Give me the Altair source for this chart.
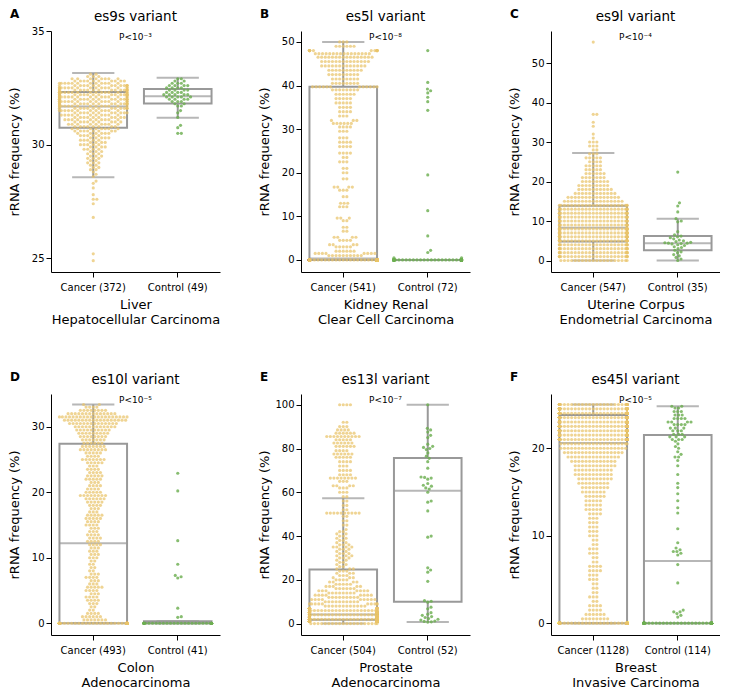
import numpy as np
import pandas as pd
import altair as alt

# ---------------- data ----------------
LETTERS = ["A", "B", "C", "D", "E", "F"]
VARIANTS = ["es9s variant", "es5l variant", "es9l variant",
            "es10l variant", "es13l variant", "es45l variant"]
TISSUES = [["Liver", "Hepatocellular Carcinoma"],
           ["Kidney Renal", "Clear Cell Carcinoma"],
           ["Uterine Corpus", "Endometrial Carcinoma"],
           ["Colon", "Adenocarcinoma"],
           ["Prostate", "Adenocarcinoma"],
           ["Breast", "Invasive Carcinoma"]]
PVALUES = ["P<10\u207b\u00b3", "P<10\u207b\u2078", "P<10\u207b\u2074",
           "P<10\u207b\u2075", "P<10\u207b\u2077", "P<10\u207b\u2075"]
N_CANCER = [372, 541, 547, 493, 504, 1128]
N_CONTROL = [49, 72, 35, 41, 52, 114]
Y_DOMAINS = [[24.4, 35.0], [-2.77, 52.5], [-2.9, 58.1],
             [-1.8, 35.0], [-5.2, 104.9], [-1.35, 26.2]]
Y_TICKS = [[25, 30, 35], [0, 10, 20, 30, 40, 50], [0, 10, 20, 30, 40, 50],
           [0, 10, 20, 30], [0, 20, 40, 60, 80, 100], [0, 10, 20]]

# box statistics: [lower whisker, Q1, median, Q3, upper whisker]
BOX_CANCER = [[28.57, 30.75, 31.68, 32.32, 33.15],
              [0.0, 0.0, 0.3, 39.7, 50.0],
              [0.0, 4.8, 8.3, 13.9, 27.2],
              [0.0, 0.0, 12.2, 27.4, 33.4],
              [0.0, 1.8, 4.2, 24.7, 57.3],
              [0.0, 0.0, 20.6, 23.8, 25.0]]
BOX_CONTROL = [[31.18, 31.81, 32.13, 32.45, 32.94],
               [0.0, 0.0, 0.0, 0.0, 0.0],
               [0.0, 2.6, 4.4, 6.2, 10.6],
               [0.0, 0.0, 0.0, 0.3, 0.3],
               [0.7, 10.0, 60.7, 75.7, 100.0],
               [0.0, 0.0, 7.1, 21.5, 24.8]]

# swarm rows: value levels and number of dots at each level
A_CAN_V = [33.1, 33.0, 32.9, 32.8, 32.7, 32.6, 32.5, 32.4, 32.3, 32.2, 32.1, 32.0, 31.9,
           31.8, 31.7, 31.6, 31.5, 31.4, 31.3, 31.2, 31.1, 31.0, 30.9, 30.8, 30.7, 30.6,
           30.5, 30.4, 30.3, 30.2, 30.1, 30.0, 29.9, 29.8, 29.7, 29.6, 29.5, 29.4, 29.3,
           29.2, 29.1, 29.0, 28.9, 28.8, 28.7, 28.6,
           28.4, 28.3, 28.1, 27.8, 27.6, 27.4, 26.8, 25.2, 24.9]
A_CAN_N = [2, 3, 8, 10, 12, 14, 15, 16, 16, 16, 16, 15, 15, 15, 14, 13, 12, 11, 11, 10,
           10, 9, 9, 8, 8, 8,
           6, 5, 5, 5, 4, 5, 4, 4, 3, 3, 3, 3, 2, 3, 2, 2, 2, 1, 1, 1,
           1, 1, 1, 1, 2, 1, 1, 1, 1]
A_CON_V = [32.9, 32.8, 32.7, 32.6, 32.5, 32.4, 32.3, 32.2, 32.1, 32.0, 31.9, 31.8, 31.7,
           31.5, 31.4, 31.2, 30.85, 30.75, 30.5]
A_CON_N = [2, 2, 3, 4, 4, 4, 4, 5, 5, 4, 3, 2, 2, 1, 1, 1, 1, 1, 2]

B_CAN_V = [0.0, 1.0, 1.5, 2.0, 3.0, 3.5, 4.5, 5.2, 6.6, 7.5, 9.0, 9.6, 12.2, 13.0, 14.5,
           16.0, 16.7, 18.6, 20.0, 21.0, 22.5, 23.5, 24.5, 26.0, 27.0, 28.0, 29.5, 30.5,
           31.3, 32.0, 33.0, 34.0, 35.0, 36.0, 37.0, 38.0, 39.0, 39.7, 40.5, 41.5, 42.5,
           43.5, 44.5, 45.5, 46.5, 47.3, 48.0, 49.0, 50.0]
B_CAN_N = [265, 10, 8, 6, 5, 4, 4, 4, 2, 2, 2, 3, 3, 3, 2,
           3, 4, 2, 2, 2, 3, 2, 4, 4, 4, 3, 3, 4,
           6, 3, 3, 4, 4, 5, 5, 6, 8, 12, 8, 8, 9,
           10, 13, 14, 16, 16, 13, 6, 3]
B_CON_V = [0.0, 0.5, 1.7, 2.2, 5.5, 11.3, 19.5, 34.3, 36.3, 37.3, 38.3, 38.8, 39.2, 40.7, 48.0]
B_CON_N = [57, 2, 1, 1, 1, 1, 1, 1, 1, 1, 1, 1, 1, 1, 1]

C_CAN_V = [0, 1, 2, 3, 4, 5, 6, 7, 8, 9, 10, 11, 12, 13, 14, 15, 16, 17, 18, 19, 20,
           21, 22, 23, 24, 25, 26, 27, 28, 29, 30, 31, 32, 34, 35, 37, 55.3]
C_CAN_N = [20, 26, 26, 26, 26, 33, 34, 34, 34, 28, 27, 26, 25, 24, 22, 17, 15, 12, 10, 9, 8,
           7, 6, 5, 5, 4, 5, 3, 2, 3, 3, 1, 1, 1, 1, 2, 1]
C_CON_V = [22.4, 14.6, 13.8, 12.3, 10.6, 10.0, 9.8, 7.3, 6.5, 6.2, 6.0, 5.8, 5.5, 5.2,
           5.0, 4.8, 4.6, 4.5, 4.4, 4.4, 4.3, 4.2, 4.0, 3.8, 3.5, 3.3, 3.0, 2.6, 2.2,
           2.0, 1.5, 1.2, 0.8, 0.4, 0.0]
C_CON_N = None

D_CAN_V = [0.0, 0.5, 1.0, 1.5, 2.0, 2.5, 3.0, 3.5, 4.0, 4.5, 5.0, 5.5, 6.0, 6.5, 7.0, 7.5,
           8.0, 8.5, 9.0, 9.5, 10.0, 10.5, 11.0, 11.5, 12.0, 12.5, 13.0, 13.5, 14.0, 14.5,
           15.0, 15.5, 16.0, 16.5, 17.0, 17.5, 18.0, 18.5, 19.0, 19.5, 20.0, 20.5, 21.0,
           21.5, 22.0, 22.5, 23.0, 23.5, 24.0, 24.5, 25.0, 25.5, 26.0, 26.5, 27.0, 27.5,
           28.0, 28.5, 29.0, 29.5, 30.0, 30.5, 31.0, 31.5, 32.0, 32.5, 33.0, 33.4]
D_CAN_N = [160, 7, 6, 4, 2, 2, 3, 4, 4, 3, 4, 5, 3, 3, 4, 3,
           2, 2, 2, 2, 3, 3, 3, 3, 4, 4, 4, 4, 3, 3,
           4, 4, 5, 5, 3, 3, 4, 5, 6, 8, 5, 4, 4,
           3, 5, 5, 4, 4, 3, 5, 7, 4, 5, 8, 7, 6,
           7, 8, 9, 10, 12, 14, 18, 20, 14, 8, 4, 2]
D_CON_V = [0.0, 0.9, 1.0, 2.3, 6.9, 7.1, 7.3, 9.0, 12.6, 20.2, 22.9]
D_CON_N = [31, 1, 1, 1, 1, 1, 1, 1, 1, 1, 1]

E_CAN_V = [0, 1, 2, 3, 4, 5, 6, 7, 8, 9, 10, 11, 12, 13, 14, 15, 16, 17, 18, 19, 20, 21,
           22, 23, 24, 25, 26, 27, 28, 29, 30, 31, 32, 33, 34, 35, 36, 37, 38, 39, 40,
           41, 42, 43, 45, 47, 49, 50.5, 52, 54, 56, 58, 60, 62, 63, 65, 66.5, 68, 70,
           72, 74, 76, 77.5, 79, 81, 82.5, 84, 85.5, 87, 88.5, 90, 92, 100]
E_CAN_N = [20, 35, 38, 38, 35, 30, 24, 20, 12, 10, 10, 9, 9, 8, 8, 7, 6, 5, 5, 4, 4, 3,
           3, 3, 3, 3, 2, 2, 2, 2, 3, 3, 3, 2, 3, 4, 3, 2, 2, 2, 2,
           2, 2, 1, 2, 2, 2, 10, 2, 2, 2, 2, 3, 3, 4, 3, 8, 4, 4,
           3, 4, 5, 6, 4, 6, 6, 5, 10, 6, 4, 3, 2, 4]
E_CON_V = [100, 89.2, 88.5, 87.5, 86, 85, 82, 81, 80.5, 80, 79.5, 78, 76.5, 75.5, 74,
           71, 67, 66.8, 66.5, 66, 64, 63.2, 62.8, 62, 61.5, 60, 56, 55.5, 51.5, 40,
           39.5, 25.5, 24.5, 23.5, 19.3, 10.5, 10.2, 9.8, 7.5, 6.8, 5, 4.3, 3.8, 3.2,
           2.8, 2.3, 2, 1.6, 1.2, 1.0, 0.8, 0.7]
E_CON_N = None

F_CAN_V = [0.0, 0.5, 1.0, 1.5, 2.0, 2.5, 3.0, 3.5, 4.0, 4.5, 5.0, 5.5, 6.0, 6.5, 7.0, 7.5,
           8.0, 8.5, 9.0, 9.5, 10.0, 10.5, 11.0, 11.5, 12.0, 12.5, 13.0, 13.5, 14.0, 14.5,
           15.0, 15.5, 16.0, 16.5, 17.0, 17.5, 18.0, 18.5, 19.0, 19.5, 20.0, 20.5, 21.0,
           21.5, 22.0, 22.5, 23.0, 23.5, 24.0, 24.5, 25.0]
F_CAN_N = [290, 8, 6, 4, 4, 2, 3, 2, 2, 2, 3, 3, 4, 4, 2, 2,
           3, 3, 2, 2, 3, 3, 3, 3, 3, 4, 5, 5, 5, 6,
           7, 8, 9, 10, 11, 11, 12, 13, 15, 17, 19, 20, 50,
           60, 65, 70, 75, 75, 70, 60, 35]
F_CON_V = [0.0, 0.7, 0.9, 1.1, 1.3, 1.5, 4.6, 6.7, 7.8, 8.0, 8.2, 8.4, 8.6, 9.2, 10.8,
           12.6, 13.2, 14.0, 14.8, 15.5, 16.0, 17.0, 18.0, 18.6, 19.0, 19.3, 19.6, 20.0,
           20.2, 20.5, 20.8, 21.0, 21.3, 21.6, 22.0, 22.3, 22.7, 23.0, 23.4, 23.8, 24.2,
           24.6, 24.8]
F_CON_N = [44, 1, 1, 1, 2, 1, 1, 1, 1, 1, 2, 1, 1, 1, 1,
           1, 1, 1, 1, 1, 1, 1, 1, 1, 2, 1, 1, 1,
           1, 1, 1, 3, 3, 3, 3, 3, 4, 4, 4, 3, 3,
           2, 2]

SWARMS = [(A_CAN_V, A_CAN_N, A_CON_V, A_CON_N),
          (B_CAN_V, B_CAN_N, B_CON_V, B_CON_N),
          (C_CAN_V, C_CAN_N, C_CON_V, C_CON_N),
          (D_CAN_V, D_CAN_N, D_CON_V, D_CON_N),
          (E_CAN_V, E_CAN_N, E_CON_V, E_CON_N),
          (F_CAN_V, F_CAN_N, F_CON_V, F_CON_N)]

# ---------------- styling ----------------
W, H = 169, 241
BW = W / 2.0
DOT = 3.6
GOLD = "#E9C46A"
GREEN = "#6DAE50"
GRAY = "#999999"
FONT = "DejaVu Sans"


def expand(vals, cnts):
    out = []
    for i, v in enumerate(vals):
        c = 1 if cnts is None else cnts[i]
        out.extend([v] * c)
    return np.array(out, dtype=float)


def swarm(py, d, maxw):
    """Beeswarm layout (as seaborn does): each dot at the free spot closest to the centre."""
    n = len(py)
    order = np.argsort(py, kind="stable")
    xs = np.zeros(n)
    dy_arr = np.empty(n)
    dx_arr = np.empty(n)
    k = 0
    start = 0
    for i in order:
        y = py[i]
        while start < k and dy_arr[start] < y - d:
            start += 1
        ny = dy_arr[start:k]
        nx = dx_arr[start:k]
        if len(ny) == 0:
            x = 0.0
        else:
            dy = np.abs(ny - y)
            sh = np.sqrt(np.maximum(d * d - dy * dy, 0.0))
            cands = np.concatenate([[0.0], nx + sh, nx - sh])
            dist = (cands[:, None] - nx[None, :]) ** 2 + dy[None, :] ** 2
            ok = np.all(dist >= d * d - 1e-6, axis=1)
            valid = cands[ok]
            x = valid[np.argmin(np.abs(valid))]
        xs[i] = x
        dy_arr[k] = y
        dx_arr[k] = x
        k += 1
    return np.clip(xs, -maxw, maxw)


def panel(i):
    cv, cn, kv, kn = SWARMS[i]
    lo, hi = Y_DOMAINS[i]
    cats = [f"Cancer ({N_CANCER[i]})", f"Control ({N_CONTROL[i]})"]
    rows = []
    for cat, grp, vals, cnts in [(cats[0], "Cancer", cv, cn), (cats[1], "Control", kv, kn)]:
        v = expand(vals, cnts)
        py = (v - lo) / (hi - lo) * H
        off = swarm(py, DOT, 0.4 * BW)
        for a, b in zip(v, off):
            rows.append({"cat": cat, "grp": grp, "v": a, "off": b})
    pts = pd.DataFrame(rows)
    box = pd.DataFrame({
        "cat": cats,
        "lo": [BOX_CANCER[i][0], BOX_CONTROL[i][0]],
        "q1": [BOX_CANCER[i][1], BOX_CONTROL[i][1]],
        "med": [BOX_CANCER[i][2], BOX_CONTROL[i][2]],
        "q3": [BOX_CANCER[i][3], BOX_CONTROL[i][3]],
        "hi": [BOX_CANCER[i][4], BOX_CONTROL[i][4]],
    })

    xaxis = alt.Axis(title=TISSUES[i], titleFontSize=13, titleFontWeight="normal",
                     titleLineHeight=15, titlePadding=6, labelFontSize=10, labelAngle=0,
                     labelPadding=5, tickSize=5)
    X = alt.X("cat:N", scale=alt.Scale(domain=cats, paddingInner=0, paddingOuter=0),
              axis=xaxis)
    yscale = alt.Scale(domain=[lo, hi], nice=False, zero=False)
    yaxis = alt.Axis(values=Y_TICKS[i], title="rRNA frequency (%)", titleFontSize=13,
                     titleFontWeight="normal", labelFontSize=10, tickSize=5,
                     labelPadding=2, minExtent=27, maxExtent=27, titlePadding=3,
                     grid=False)

    def Y(f):
        return alt.Y(f"{f}:Q", scale=yscale, axis=yaxis)

    base = alt.Chart(box)
    boxes = base.mark_bar(width=0.8 * BW, fill="white", stroke=GRAY,
                          strokeWidth=2).encode(x=X, y=Y("q1"), y2="q3:Q")
    med = base.mark_tick(size=0.8 * BW, thickness=2, color=GRAY).encode(x=X, y=Y("med"))
    wlo = base.mark_rule(color=GRAY, strokeWidth=2).encode(x=X, y=Y("lo"), y2="q1:Q")
    whi = base.mark_rule(color=GRAY, strokeWidth=2).encode(x=X, y=Y("q3"), y2="hi:Q")
    clo = base.mark_tick(size=0.5 * BW, thickness=2, color=GRAY).encode(x=X, y=Y("lo"))
    chi = base.mark_tick(size=0.5 * BW, thickness=2, color=GRAY).encode(x=X, y=Y("hi"))
    dots = alt.Chart(pts).mark_circle(size=10, strokeWidth=0).encode(
        x=X,
        xOffset=alt.XOffset("off:Q", scale=alt.Scale(domain=[-BW / 2, BW / 2],
                                                     range=[0, BW])),
        y=Y("v"),
        color=alt.Color("grp:N", scale=alt.Scale(domain=["Cancer", "Control"],
                                                 range=[GOLD, GREEN]), legend=None),
        opacity=alt.Opacity("grp:N", scale=alt.Scale(domain=["Cancer", "Control"],
                                                     range=[0.72, 0.82]), legend=None),
    )
    title = alt.Chart(pd.DataFrame({"t": [VARIANTS[i]]})).mark_text(
        fontSize=13.5, align="center", baseline="alphabetic", font=FONT
    ).encode(x=alt.value(W / 2), y=alt.value(-10), text="t:N")
    letter = alt.Chart(pd.DataFrame({"t": [LETTERS[i]]})).mark_text(
        fontSize=12, fontWeight="bold", align="left", baseline="alphabetic", font=FONT
    ).encode(x=alt.value(-41), y=alt.value(-13), text="t:N")
    pval = alt.Chart(pd.DataFrame({"t": [PVALUES[i]]})).mark_text(
        fontSize=9, align="center", baseline="top", font=FONT
    ).encode(x=alt.value(W / 2), y=alt.value(2), text="t:N")

    return alt.layer(boxes, med, wlo, whi, clo, chi, dots, title, letter, pval).properties(
        width=W, height=H)


panels = [panel(i) for i in range(6)]
row1 = alt.hconcat(*panels[:3], spacing=38)
row2 = alt.hconcat(*panels[3:], spacing=38)
chart = alt.vconcat(row1, row2, spacing=45).properties(
    padding={"left": 0, "top": 0, "right": 0, "bottom": 0}
).configure(font=FONT).configure_view(stroke=None).configure_axis(
    domainColor="black", tickColor="black", labelColor="black", titleColor="black",
    domainWidth=1, tickWidth=1, labelFont=FONT, titleFont=FONT, grid=False
)

chart.save("out.html", embed_options={"renderer": "svg", "actions": False})
